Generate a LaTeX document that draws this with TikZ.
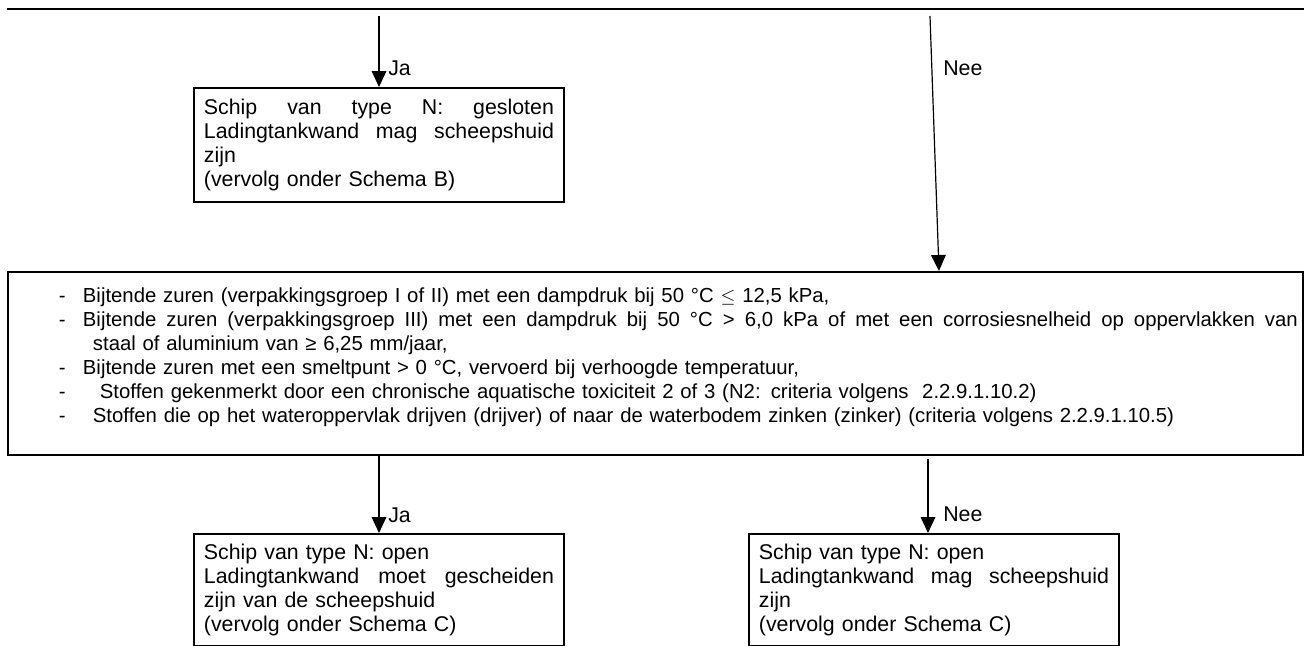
\documentclass[tikz,border=0pt]{standalone}
\usepackage{fontspec}
\setmainfont{Liberation Sans}
\usetikzlibrary{arrows.meta}

\tikzset{
	vak/.style={draw, line width=1.4pt, anchor=north west, inner xsep=7.5pt, inner ysep=0pt,
		text width=262.5pt, minimum height=#1, align=left, font=\fontsize{16}{18}\selectfont},
	vak/.default=84pt,
	pijl/.style={line width=0.9pt, -{Triangle[length=12pt,width=11pt]}},
	antw/.style={anchor=west, inner sep=0pt, font=\fontsize{16}{18}\selectfont},
}
% uitgevulde regel
\newcommand{\uitvb}[2]{{\spaceskip=0pt\xspaceskip=0pt\makebox[#1][s]{#2}}}
\newcommand{\uitv}[1]{\uitvb{\hsize}{#1}}
% regel met streepje
\newcommand{\streep}[2]{\makebox[#1][l]{\hspace*{34.5pt}-}#2}

\begin{document}
\begin{tikzpicture}[x=0.75pt,y=0.75pt,yscale=-1,xscale=1]
	\useasboundingbox (0,0) rectangle (1304,646);
	
	%bovenlijn
	\draw [line width=1.5pt] (7,9) -- (1304,9) ;
	\coordinate (start ja) at (379,16);
	\coordinate (start nee) at (930,16);
	
	% Schema B
	\node [vak=85.5pt] (schipB) at (193,87) {\uitv{Schip van type N: gesloten}\\
		\uitv{Ladingtankwand mag scheepshuid}\\
		zijn\\
		(vervolg onder Schema B)};
	
	% criteria
	\node [draw, line width=1.4pt, anchor=north west, inner xsep=3.75pt, inner ysep=0pt,
		text width=963.75pt, minimum height=137.25pt, align=left,
		font=\fontsize{15.25}{18}\selectfont] (criteria) at (7,271) {%
		\streep{52.5pt}{Bijtende zuren (verpakkingsgroep I of II) met een dampdruk bij 50 °C $\leq$ 12,5 kPa,}\\
		\streep{52.5pt}{\uitvb{911.25pt}{Bijtende zuren (verpakkingsgroep III) met een dampdruk bij 50 °C > 6,0 kPa of met een corrosiesnelheid op oppervlakken van}}\\
		\hspace*{60pt}staal of aluminium van ≥ 6,25 mm/jaar,\\
		\streep{52.5pt}{Bijtende zuren met een smeltpunt > 0 °C, vervoerd bij verhoogde temperatuur,}\\
		\streep{65.25pt}{Stoffen gekenmerkt door een chronische aquatische toxiciteit 2 of 3 (N2: criteria volgens\ \ 2.2.9.1.10.2)}\\
		\streep{60pt}{Stoffen die op het wateroppervlak drijven (drijver) of naar de waterbodem zinken (zinker) (criteria volgens 2.2.9.1.10.5)}\rule[-12pt]{0pt}{0pt}};
	\coordinate (eind nee) at (939,271);
	
	% Schema C
	\node [vak] (openC) at (193,533) {Schip van type N: open\\
		\uitv{Ladingtankwand moet gescheiden}\\
		zijn van de scheepshuid\\
		(vervolg onder Schema C)};
	\node [vak] (magC) at (748,533) {Schip van type N: open\\
		\uitv{Ladingtankwand mag scheepshuid}\\
		zijn\\
		(vervolg onder Schema C)};
	\coordinate (start nee2) at (928,459);
	
	% pijlen
	\draw [pijl] (start ja) -- (start ja |- schipB.north) ;
	\draw [pijl] (start nee) -- (eind nee) ;
	\draw [pijl] (start ja |- criteria.south) -- (start ja |- openC.north) ;
	\draw [pijl] (start nee2) -- (start nee2 |- magC.north) ;
	
	% Text Node
	\node [antw] (ja boven) at (388,68) {Ja};
	\node [antw] (nee boven) at (943,68) {Nee};
	\node [antw] (ja onder) at (388,515) {Ja};
	\node [antw] (nee onder) at (943,514) {Nee};
	
\end{tikzpicture}
\end{document}
